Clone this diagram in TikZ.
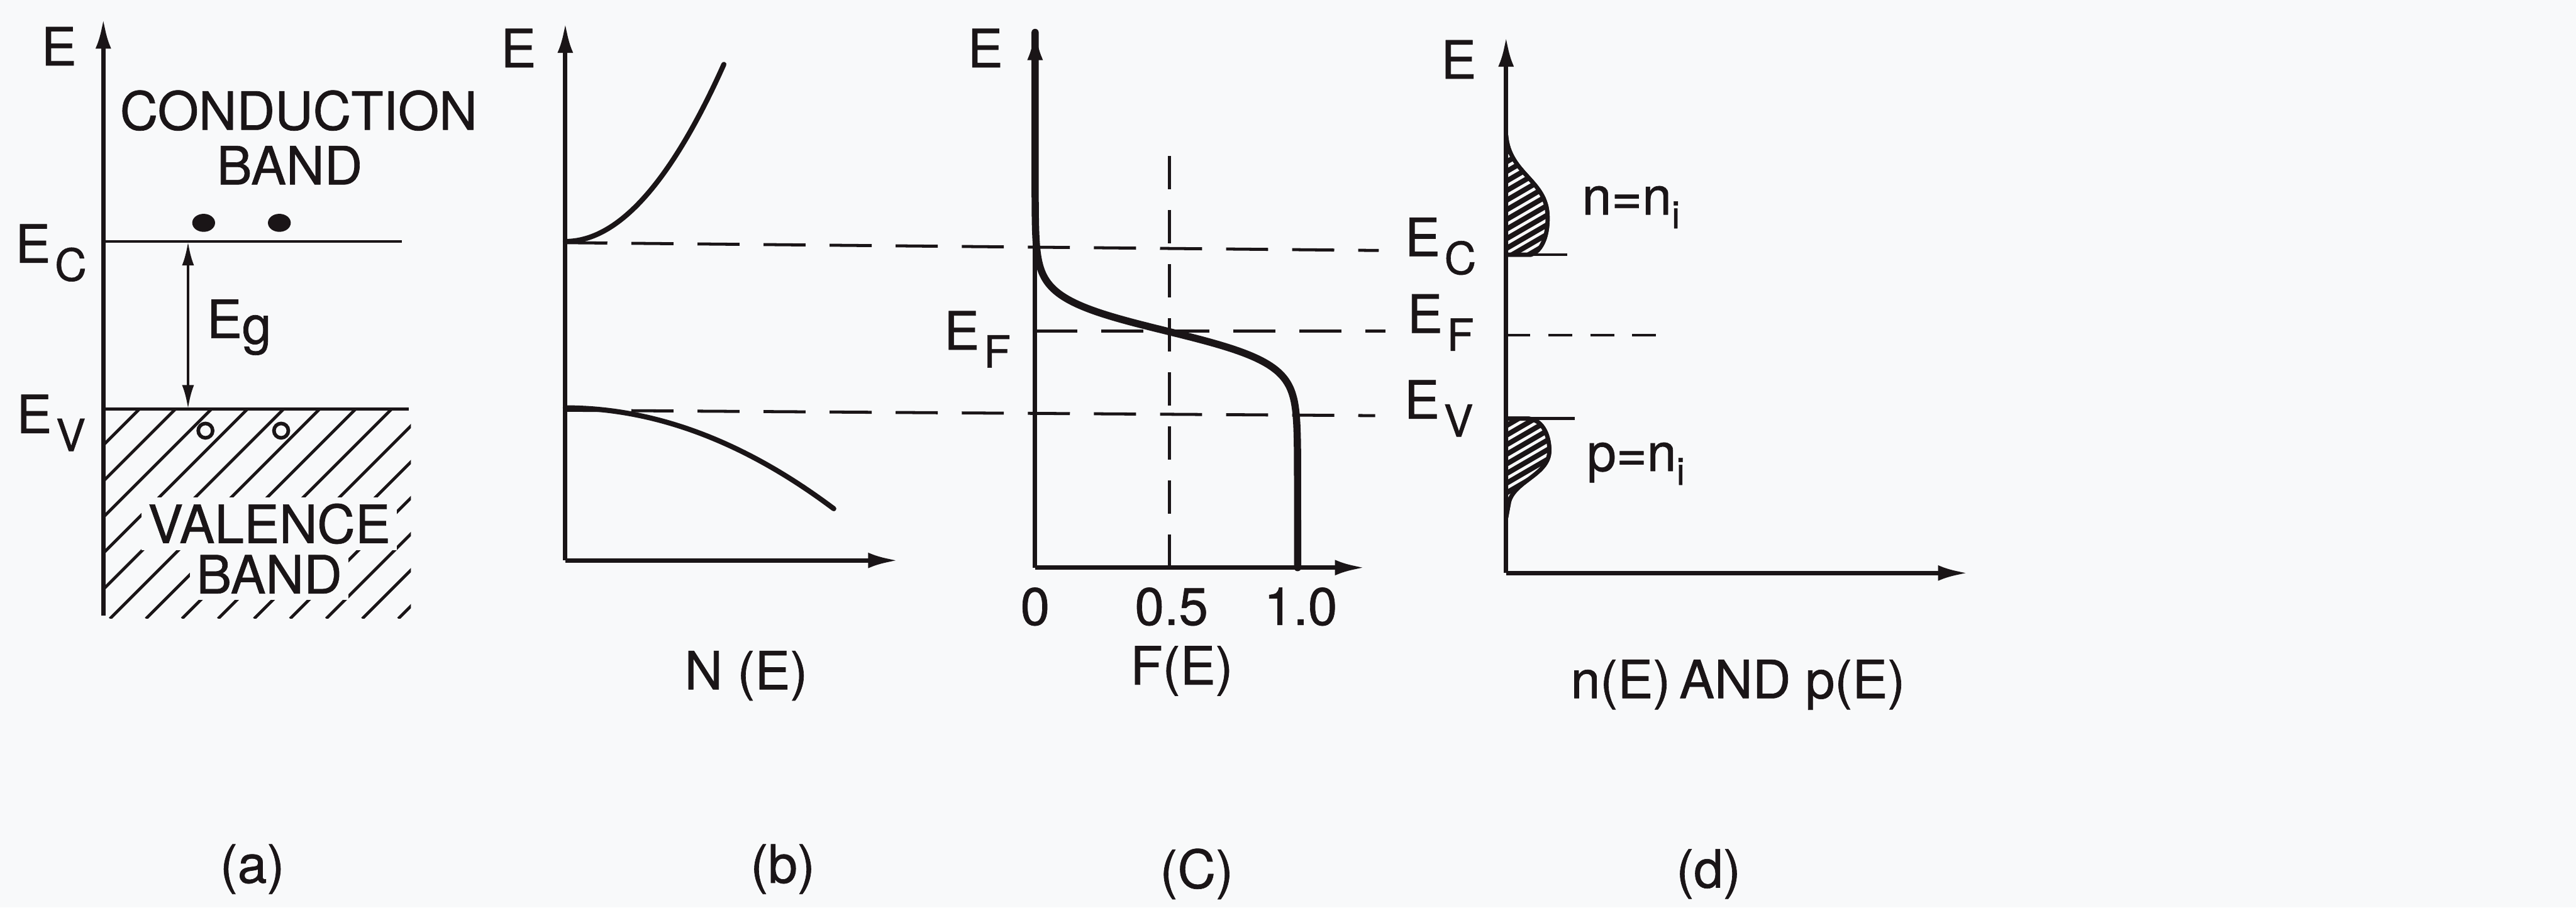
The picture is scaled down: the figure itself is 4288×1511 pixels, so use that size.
\documentclass[tikz,border=0pt]{standalone}
\usepackage{fontspec}
\setmainfont{TeX Gyre Heros}
\newfontfamily\lettering{TeX Gyre Heros}[FakeBold=0.8]
\usetikzlibrary{arrows.meta,calc}
\definecolor{ink}{HTML}{1A1517}
\definecolor{paper}{HTML}{F8F9FA}
\newcommand{\lev}[1]{E\kern2pt\raisebox{-0.65ex}{\fontsize{21}{22}\selectfont #1}}
\newcommand{\sub}[1]{\raisebox{-0.5ex}{\fontsize{18}{19}\selectfont #1}}
\tikzset{
  lbl/.style={font=\lettering\fontsize{25}{28}\selectfont,text=ink,inner sep=0pt},
  ax/.style={-{Latex[length=5mm,width=2.6mm]},draw=ink,line width=.75mm},
  lvl/.style={draw=ink,line width=.5mm},
  dsh/.style={draw=ink,line width=.5mm,dash pattern=on 7mm off 4mm},
  crv/.style={draw=ink,line width=.85mm,line cap=round},
  fermi/.style={draw=ink,line width=1.2mm,line cap=round,line join=round},
  gap/.style={{Latex[length=4mm,width=2mm]}-{Latex[length=4mm,width=2mm]},draw=ink,line width=.5mm},
  lobe/.style={draw=ink,line width=.7mm,fill=ink},
}

\begin{document}
\begin{tikzpicture}[x=.1mm,y=-.1mm]
  \fill[paper] (0,0) rectangle (4288,1511);
  % (a) band diagram
  \coordinate (oa) at (172,1025);
  \coordinate (ecA) at (172,402);
  \coordinate (evA) at (172,681);
  \begin{scope}
    \clip (172,681) rectangle (684,1030);
    \foreach \c in {853,913,...,1753} \draw[lvl] (\c-1030,1030) -- (\c-681,681);
  \end{scope}
  \draw[ax] (oa) -- (172,31);
  \draw[lvl] (ecA) -- ++(497,0) coordinate (ecAr);
  \draw[lvl] (evA) -- ++(508,0) coordinate (evAr);
  \draw[gap] (313,402) -- (313,681);
  \fill[ink] (339,371) ellipse (1.9mm and 1.5mm);
  \fill[ink] (465,371) ellipse (1.9mm and 1.5mm);
  \draw[ink,line width=.6mm,fill=paper] (342,717) circle (1.2mm);
  \draw[ink,line width=.6mm,fill=paper] (468,717) circle (1.2mm);
  \node[lbl] (Ea) at (98,77) {E};
  \node[lbl] (cb1) at (497,184) {CONDUCTION};
  \node[lbl] (cb2) at (482,275) {BAND};
  \node[lbl] (Eca) at (85,421) {\lev{C}};
  \node[lbl] (Eva) at (85,704) {\lev{V}};
  \node[lbl] (Eg) at (398,545) {E\raisebox{-0.2ex}{g}};
  \node[lbl,fill=paper,inner sep=3pt] (vb1) at (448,872) {VALENCE};
  \node[lbl,fill=paper,inner sep=3pt] (vb2) at (448,956) {BAND};
  \node[lbl] (capa) at (420,1447) {(a)};
  % (b) density of states
  \coordinate (ob) at (941,933);
  \draw[ax] (ob) -- (941,38);
  \draw[ax] (ob) -- (1495,933);
  \draw[crv] plot[domain=0:1,samples=40,smooth] ({941+264*\x},{402-295*\x*\x});
  \draw[crv] plot[domain=0:1,samples=40,smooth] ({941+447*\x},{679+168*\x*\x});
  \draw[dsh] (941,404) -- (2295,417);
  \draw[dsh] (941,683) -- (2289,692);
  \node[lbl] (Eb) at (863,80) {E};
  \node[lbl] (Nb) at (1242,1125) {N (E)};
  \node[lbl] (capb) at (1303,1447) {(b)};
  % (c) Fermi function
  \coordinate (oc) at (1723,945);
  \draw[dsh,dash pattern=on 5.5mm off 3.5mm] (1947,945) -- (1947,230);
  \draw[dsh] (1723,551) -- (2306,551);
  \draw[ax] (oc) -- (1723,50);
  \draw[ax] (oc) -- (2272,945);
  \draw[fermi] (1723,54) -- plot[domain=-230:230,samples=120,smooth] ({1723+437/(1+exp(-\x/27))},{551+\x}) -- (2160,945);
  \node[lbl] (Ec) at (1640,80) {E};
  \node[lbl] (Efl) at (1627,565) {\lev{F}};
  \node[lbl] (Ecr) at (2398,410) {\lev{C}};
  \node[lbl] (Efr) at (2398,537) {\lev{F}};
  \node[lbl] (Evr) at (2395,680) {\lev{V}};
  \node[lbl] (t0) at (1723,1010) {0};
  \node[lbl] (t05) at (1950,1010) {0.5};
  \node[lbl] (t1) at (2165,1010) {1.0};
  \node[lbl] (Fc) at (1967,1117) {F(E)};
  \node[lbl] (capc) at (1992,1455) {(C)};
  % (d) carrier densities
  \coordinate (od) at (2507,954);
  \def\nlobe{(2507,225) .. controls (2512,290) and (2575,300) .. (2576,360) .. controls (2577,400) and (2562,420) .. (2548,424) -- (2507,424) -- cycle}
  \def\plobe{(2507,697) -- (2545,697) .. controls (2570,700) and (2579,728) .. (2579,750) .. controls (2579,790) and (2522,800) .. (2512,835) -- (2507,862) -- cycle}
  \draw[lobe] \nlobe;
  \draw[lobe] \plobe;
  \begin{scope}
    \clip \nlobe;
    \foreach \k in {0,...,18} \draw[paper,line width=.5mm] (2500,250+\k*16) -- ++(110,-64);
  \end{scope}
  \begin{scope}
    \clip \plobe;
    \foreach \k in {0,...,14} \draw[paper,line width=.5mm] (2500,705+\k*16) -- ++(110,-64);
  \end{scope}
  \draw[ink,line width=.7mm] \nlobe;
  \draw[ink,line width=.7mm] \plobe;
  \draw[ax] (od) -- (2507,61);
  \draw[ax] (od) -- (3276,954);
  \draw[lvl] (2507,424) -- (2609,424);
  \draw[dsh,dash pattern=on 4mm off 3mm] (2507,558) -- (2756,558);
  \draw[lvl] (2507,697) -- (2621,697);
  \node[lbl] (Ed) at (2428,99) {E};
  \node[lbl] (nn) at (2715,345) {n=n\sub{i}};
  \node[lbl] (pn) at (2723,772) {p=n\sub{i}};
  \node[lbl] (npd) at (2893,1140) {n(E)\,AND p(E)};
  \node[lbl] (capd) at (2844,1455) {(d)};
\end{tikzpicture}
\end{document}
